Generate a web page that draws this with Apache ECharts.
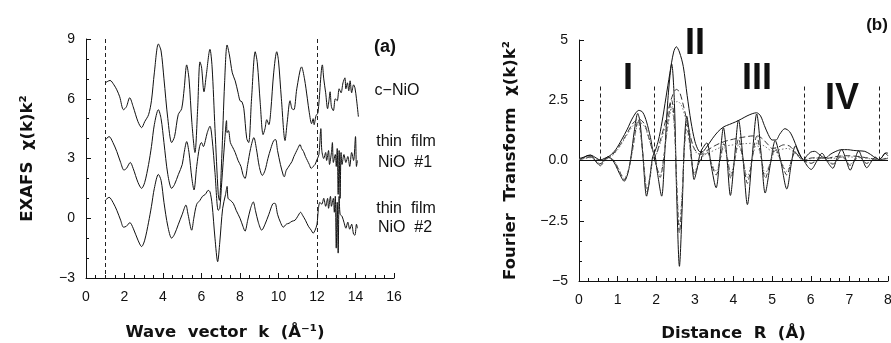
<!DOCTYPE html>
<html><head><meta charset="utf-8">
<script src="https://cdn.jsdelivr.net/npm/echarts@6/dist/echarts.min.js"></script>
<style>html,body{margin:0;padding:0;background:#fff}#c{width:891px;height:343px}</style>
</head><body><div id="c"></div>
<script>
// ---------- Panel (a): EXAFS chi(k)k^2, [k, value] ----------
const cNiO = [[1.0,6.8],[1.25,6.92],[1.45,6.7],[1.6,6.45],[1.75,6.1],[1.95,5.45],[2.1,5.6],[2.27,6.05],[2.45,5.6],[2.7,4.85],[2.89,4.55],[3.05,4.85],[3.25,5.2],[3.4,5.9],[3.55,7.3],[3.76,8.75],[3.9,8.4],[4.05,7.0],[4.25,5.0],[4.45,3.8],[4.6,4.1],[4.79,5.2],[4.97,5.5],[5.1,6.5],[5.23,7.7],[5.35,7.0],[5.5,4.8],[5.66,3.3],[5.8,5.5],[5.92,7.85],[6.0,7.6],[6.13,6.35],[6.25,7.2],[6.44,8.48],[6.55,7.6],[6.7,4.5],[6.87,1.2],[6.93,0.9],[7.05,3.0],[7.2,6.8],[7.33,8.7],[7.45,8.2],[7.6,7.3],[7.75,6.9],[7.9,6.3],[8.0,5.9],[8.1,5.85],[8.2,5.5],[8.35,4.0],[8.45,3.8],[8.6,6.0],[8.79,8.36],[8.9,7.8],[9.05,5.8],[9.2,4.2],[9.3,4.5],[9.39,4.95],[9.5,4.7],[9.6,5.4],[9.75,7.3],[9.91,8.36],[10.0,7.9],[10.15,6.0],[10.34,3.9],[10.45,4.8],[10.6,5.9],[10.7,5.5],[10.8,5.45],[10.95,6.5],[11.2,7.6],[11.35,7.0],[11.5,6.0],[11.6,5.3],[11.72,4.75],[11.8,5.0],[11.85,4.7],[11.95,5.15],[12.05,5.3],[12.28,7.7],[12.35,7.0],[12.45,6.3],[12.55,5.5],[12.62,5.9],[12.68,6.35],[12.75,5.6],[12.85,5.4],[12.95,6.0],[13.05,5.9],[13.15,6.5],[13.25,6.3],[13.35,6.8],[13.45,7.05],[13.5,6.5],[13.58,6.8],[13.65,6.4],[13.72,6.9],[13.8,6.3],[13.9,6.7],[13.97,6.55],[14.05,6.0],[14.15,5.1]];
const film1 = [[1.0,3.93],[1.2,4.1],[1.4,3.8],[1.6,3.35],[1.8,2.8],[1.97,2.42],[2.1,2.5],[2.3,2.8],[2.45,2.5],[2.7,1.8],[2.89,1.5],[3.05,1.8],[3.25,2.7],[3.4,3.6],[3.55,4.7],[3.76,5.45],[3.9,5.0],[4.05,3.8],[4.25,2.2],[4.45,1.5],[4.6,1.7],[4.8,2.2],[5.0,2.7],[5.1,3.3],[5.23,3.85],[5.35,3.3],[5.5,2.0],[5.61,1.42],[5.75,2.6],[5.9,3.6],[6.0,3.8],[6.1,3.6],[6.2,3.9],[6.3,4.3],[6.44,4.62],[6.55,4.0],[6.7,2.3],[6.87,0.4],[6.95,0.5],[7.05,1.8],[7.2,3.8],[7.3,4.9],[7.33,4.3],[7.4,4.4],[7.5,3.8],[7.6,3.6],[7.75,3.3],[7.9,2.9],[8.05,2.6],[8.15,2.2],[8.26,2.0],[8.4,2.7],[8.55,3.5],[8.72,4.05],[8.85,3.5],[9.0,2.6],[9.16,2.15],[9.3,2.4],[9.45,3.0],[9.6,3.5],[9.75,3.9],[9.85,3.95],[9.95,3.4],[10.1,2.7],[10.25,2.15],[10.3,2.08],[10.4,2.4],[10.5,2.55],[10.6,2.7],[10.7,2.85],[10.8,3.1],[10.9,3.3],[11.0,3.5],[11.12,3.7],[11.2,3.5],[11.3,3.35],[11.4,3.1],[11.5,2.9],[11.6,2.7],[11.7,2.5],[11.8,2.6],[11.9,2.7],[12.0,2.95],[12.1,3.2],[12.2,4.5],[12.25,3.4],[12.35,3.0],[12.45,3.3],[12.5,2.9],[12.6,3.4],[12.65,2.7],[12.75,3.3],[12.8,3.8],[12.85,2.8],[12.95,3.2],[13.0,2.6],[13.05,3.5],[13.1,1.2],[13.15,3.4],[13.2,1.0],[13.25,3.3],[13.3,2.7],[13.4,3.2],[13.5,2.8],[13.6,3.1],[13.7,2.6],[13.8,3.3],[13.9,2.9],[14.0,4.1],[14.05,2.6],[14.1,2.9]];
const film2 = [[1.0,0.9],[1.2,1.05],[1.4,0.8],[1.6,0.4],[1.8,-0.1],[1.95,-0.45],[2.1,-0.4],[2.28,-0.22],[2.45,-0.5],[2.7,-1.1],[2.89,-1.42],[3.05,-1.1],[3.25,-0.2],[3.4,0.6],[3.55,1.5],[3.76,2.2],[3.9,1.9],[4.05,0.8],[4.25,-0.4],[4.45,-1.0],[4.6,-0.8],[4.8,-0.3],[5.0,0.2],[5.19,0.66],[5.3,0.2],[5.49,-0.6],[5.6,0.0],[5.75,0.7],[5.92,0.9],[6.05,1.1],[6.2,1.2],[6.35,1.4],[6.44,1.33],[6.55,0.7],[6.7,-1.0],[6.84,-2.18],[6.95,-1.2],[7.1,0.5],[7.25,1.2],[7.33,1.6],[7.38,1.0],[7.5,0.9],[7.65,0.75],[7.8,0.4],[8.0,0.0],[8.15,-0.4],[8.26,-0.65],[8.4,-0.1],[8.55,0.5],[8.69,0.82],[8.8,0.4],[8.95,-0.2],[9.13,-0.6],[9.3,-0.3],[9.5,0.2],[9.7,0.72],[9.82,0.75],[9.95,0.2],[10.1,-0.2],[10.25,-0.45],[10.4,-0.3],[10.55,-0.25],[10.7,-0.15],[10.86,-0.1],[11.0,0.1],[11.15,0.3],[11.25,0.15],[11.4,-0.1],[11.55,-0.4],[11.7,-0.6],[11.8,-0.75],[11.9,-0.6],[12.0,-0.3],[12.07,0.45],[12.15,0.8],[12.25,0.7],[12.35,1.0],[12.45,0.6],[12.55,1.0],[12.6,0.5],[12.7,1.1],[12.75,0.6],[12.85,1.0],[12.9,0.3],[12.95,1.1],[13.0,-1.5],[13.05,0.8],[13.1,-1.75],[13.15,1.1],[13.2,0.2],[13.3,0.1],[13.4,-0.2],[13.5,-0.5],[13.6,-0.2],[13.7,-0.55],[13.8,-0.3],[13.9,-0.8],[13.97,-0.85],[14.05,-0.3],[14.1,-0.5]];
const kCutoffs = [1, 12];

// ---------- Panel (b): Fourier transform, [R, value] ----------
const ftMagC = [[0,0.08],[0.15,0.15],[0.3,0.22],[0.45,0.1],[0.55,0.02],[0.65,0.08],[0.8,0.2],[0.95,0.45],[1.1,0.85],[1.25,1.3],[1.4,1.8],[1.55,2.08],[1.65,2.0],[1.75,1.6],[1.85,0.95],[1.94,0.32],[2.05,0.8],[2.15,1.6],[2.25,2.6],[2.35,3.6],[2.45,4.5],[2.52,4.72],[2.6,4.5],[2.7,3.9],[2.8,2.7],[2.9,1.6],[3.0,0.8],[3.1,0.4],[3.18,0.35],[3.3,0.55],[3.45,0.9],[3.6,1.2],[3.75,1.4],[3.9,1.5],[4.05,1.6],[4.2,1.72],[4.35,1.85],[4.5,1.95],[4.6,1.98],[4.7,1.85],[4.8,1.45],[4.9,1.08],[5.0,0.85],[5.1,0.85],[5.2,1.1],[5.33,1.32],[5.45,1.2],[5.55,0.9],[5.65,0.5],[5.75,0.15],[5.82,0.04],[5.9,0.2],[6.0,0.35],[6.1,0.38],[6.2,0.28],[6.3,0.15],[6.4,0.12],[6.5,0.25],[6.65,0.38],[6.8,0.45],[6.95,0.45],[7.1,0.42],[7.25,0.4],[7.4,0.38],[7.55,0.25],[7.7,0.08],[7.77,0.04],[7.85,0.15],[7.95,0.32],[8.0,0.3]];
const ftReC = [[0,0.05],[0.1,0.1],[0.2,0.2],[0.3,0.22],[0.4,0.05],[0.5,-0.15],[0.58,-0.12],[0.65,0.02],[0.75,0.15],[0.85,0.05],[0.95,-0.2],[1.05,-0.55],[1.17,-0.86],[1.27,-0.5],[1.35,0.2],[1.43,1.2],[1.52,1.95],[1.58,1.6],[1.65,0.3],[1.75,-1.48],[1.82,-0.9],[1.9,0.1],[1.95,0.3],[2.02,-0.4],[2.14,-1.48],[2.22,0.3],[2.3,2.5],[2.4,4.0],[2.47,2.4],[2.53,-1.5],[2.6,-4.39],[2.67,-2.0],[2.73,0.8],[2.79,1.84],[2.85,1.2],[2.92,0.0],[2.98,-0.79],[3.05,-0.4],[3.15,0.35],[3.31,0.73],[3.42,-0.2],[3.55,-1.13],[3.64,0.0],[3.74,1.36],[3.83,0.1],[3.92,-1.45],[4.02,0.0],[4.13,1.68],[4.25,0.0],[4.36,-1.83],[4.48,0.1],[4.6,1.93],[4.72,0.2],[4.82,-1.35],[4.95,-0.2],[5.08,0.82],[5.22,0.0],[5.38,-1.18],[5.5,-0.1],[5.6,0.6],[5.72,0.2],[5.82,0.0],[5.92,-0.25],[6.01,-0.37],[6.15,-0.05],[6.29,0.3],[6.43,-0.05],[6.57,-0.32],[6.68,0.1],[6.8,0.45],[6.91,0.05],[7.02,-0.4],[7.13,0.0],[7.24,0.4],[7.35,0.0],[7.45,-0.3],[7.57,-0.05],[7.67,0.14],[7.77,0.03],[7.85,0.15],[7.92,0.3],[8.0,0.2]];
const ftMag1 = [[0,0.05],[0.3,0.15],[0.55,0.03],[0.8,0.15],[1.0,0.5],[1.2,1.0],[1.4,1.55],[1.55,1.72],[1.7,1.5],[1.8,1.0],[1.9,0.45],[1.97,0.2],[2.1,0.8],[2.25,1.7],[2.4,2.6],[2.52,2.95],[2.6,2.85],[2.7,2.3],[2.8,1.6],[2.9,0.9],[3.0,0.45],[3.15,0.25],[3.3,0.4],[3.5,0.6],[3.7,0.75],[3.9,0.85],[4.1,0.92],[4.3,0.98],[4.5,1.02],[4.62,1.02],[4.75,0.9],[4.9,0.65],[5.0,0.5],[5.15,0.55],[5.3,0.65],[5.45,0.6],[5.6,0.35],[5.75,0.08],[5.83,0.03],[6.0,0.1],[6.2,0.12],[6.4,0.08],[6.6,0.15],[6.9,0.2],[7.2,0.17],[7.5,0.1],[7.78,0.03],[8.0,0.12]];
const ftRe1 = [[0,0.03],[0.2,0.12],[0.3,0.15],[0.45,-0.05],[0.55,-0.22],[0.65,-0.05],[0.75,0.12],[0.9,0.0],[1.05,-0.45],[1.17,-0.8],[1.28,-0.4],[1.38,0.4],[1.47,1.3],[1.53,1.7],[1.6,1.1],[1.68,-0.2],[1.76,-1.3],[1.84,-0.7],[1.93,0.15],[2.0,-0.2],[2.1,-0.7],[2.2,0.2],[2.3,1.6],[2.4,2.5],[2.47,1.5],[2.53,-1.0],[2.6,-3.0],[2.67,-1.5],[2.73,0.6],[2.79,1.5],[2.86,0.8],[2.93,-0.2],[2.99,-0.6],[3.08,-0.2],[3.2,0.2],[3.32,0.35],[3.44,-0.2],[3.55,-0.6],[3.65,0.0],[3.75,0.7],[3.85,0.05],[3.93,-0.75],[4.03,0.0],[4.13,0.9],[4.25,0.0],[4.36,-0.95],[4.48,0.05],[4.6,1.0],[4.72,0.1],[4.82,-0.75],[4.95,-0.1],[5.08,0.5],[5.22,0.0],[5.38,-0.6],[5.5,0.0],[5.6,0.35],[5.72,0.1],[5.82,0.0],[6.0,-0.12],[6.3,0.12],[6.57,-0.15],[6.8,0.2],[7.02,-0.2],[7.24,0.17],[7.45,-0.12],[7.67,0.06],[7.8,0.0],[8.0,0.1]];
const ftMag2 = [[0,0.05],[0.3,0.12],[0.55,0.03],[0.8,0.12],[1.0,0.45],[1.2,0.95],[1.4,1.45],[1.55,1.6],[1.7,1.4],[1.8,0.95],[1.9,0.45],[1.97,0.2],[2.1,0.7],[2.25,1.5],[2.4,2.2],[2.55,2.45],[2.65,2.3],[2.75,1.8],[2.85,1.2],[2.95,0.6],[3.05,0.3],[3.2,0.25],[3.4,0.35],[3.6,0.5],[3.8,0.6],[4.0,0.65],[4.3,0.7],[4.6,0.72],[4.8,0.6],[5.0,0.4],[5.2,0.45],[5.4,0.5],[5.6,0.3],[5.75,0.08],[5.83,0.03],[6.1,0.1],[6.5,0.08],[6.9,0.15],[7.3,0.12],[7.78,0.03],[8.0,0.1]];
const ftRe2 = [[0,0.03],[0.3,0.12],[0.45,-0.03],[0.55,-0.15],[0.65,-0.03],[0.75,0.1],[0.9,0.0],[1.05,-0.42],[1.17,-0.75],[1.28,-0.38],[1.38,0.35],[1.47,1.2],[1.53,1.6],[1.6,1.0],[1.68,-0.2],[1.76,-1.2],[1.84,-0.6],[1.93,0.12],[2.0,-0.15],[2.1,-0.6],[2.2,0.2],[2.3,1.4],[2.4,2.2],[2.47,1.3],[2.53,-0.9],[2.6,-2.7],[2.67,-1.3],[2.73,0.5],[2.79,1.3],[2.86,0.7],[2.93,-0.15],[2.99,-0.5],[3.08,-0.15],[3.2,0.15],[3.32,0.3],[3.44,-0.15],[3.55,-0.45],[3.65,0.0],[3.75,0.55],[3.85,0.05],[3.93,-0.55],[4.03,0.0],[4.13,0.65],[4.25,0.0],[4.36,-0.7],[4.48,0.05],[4.6,0.7],[4.72,0.1],[4.82,-0.55],[4.95,-0.1],[5.08,0.4],[5.22,0.0],[5.38,-0.45],[5.5,0.0],[5.6,0.3],[5.72,0.08],[5.82,0.0],[6.0,-0.1],[6.3,0.1],[6.57,-0.12],[6.8,0.15],[7.02,-0.15],[7.24,0.12],[7.45,-0.1],[7.67,0.05],[7.8,0.0],[8.0,0.08]];
const rWindows = [0.56, 1.94, 3.16, 5.83, 7.77];
const windowTop = 3.1;

const INK = '#111';
const minus = v => String(v).replace('-', '\u2212');
const tickFont = {color: INK, fontFamily: 'Liberation Sans, Arial, sans-serif', fontSize: 14};
const titleFont = {color: INK, fontFamily: 'DejaVu Sans, sans-serif', fontSize: 16.5, fontWeight: 'bold'};

function axisCommon(extra) {
  return Object.assign({
    type: 'value',
    axisLine: {show: true, onZero: false, lineStyle: {color: INK, width: 1}},
    axisTick: {show: true, inside: true, length: 5, lineStyle: {color: INK}},
    minorTick: {show: true, length: 3, lineStyle: {color: INK}},
    splitLine: {show: false},
    minorSplitLine: {show: false},
    nameLocation: 'middle',
    nameTextStyle: titleFont
  }, extra);
}

function line(data, xi, style, extra) {
  return Object.assign({
    type: 'line', data: data, xAxisIndex: xi, yAxisIndex: xi,
    showSymbol: false, symbol: 'none', smooth: 0.3, silent: true,
    lineStyle: Object.assign({color: INK, width: 1}, style)
  }, extra || {});
}

const leftCut = {
  silent: true, symbol: 'none', label: {show: false},
  lineStyle: {color: '#222', type: [4, 3], width: 1},
  data: kCutoffs.map(k => [{coord: [k, 9]}, {coord: [k, -3]}])
};
const rightCut = {
  silent: true, symbol: 'none', label: {show: false},
  lineStyle: {color: '#222', type: [4, 3], width: 1},
  data: rWindows.map(r => [{coord: [r, 0]}, {coord: [r, windowTop]}]).concat([
    [{coord: [0, 0], lineStyle: {type: 'solid', color: INK, width: 1}}, {coord: [8, 0]}]
  ])
};

const chart = echarts.init(document.getElementById('c'), null, {renderer: 'canvas'});
const txt = (t, x, y, size, weight, extra) => Object.assign({
  type: 'text', x: x, y: y, silent: true,
  style: {text: t, fill: INK, font: (weight || 'normal') + ' ' + size + 'px "Liberation Sans", Arial, sans-serif',
          textAlign: 'center', textVerticalAlign: 'middle'}
}, extra || {});

chart.setOption({
  animation: false,
  backgroundColor: '#fff',
  grid: [
    {left: 86, top: 39, width: 308, height: 239, containLabel: false, outerBoundsMode: 'none'},
    {left: 579, top: 40, width: 309, height: 241, containLabel: false, outerBoundsMode: 'none'}
  ],
  xAxis: [
    axisCommon({gridIndex: 0, min: 0, max: 16, interval: 2, minorTick: {show: true, splitNumber: 4, length: 3, lineStyle: {color: INK}},
      axisLabel: Object.assign({margin: 12}, tickFont),
      name: 'Wave  vector  k  (Å\u207B\u00B9)', nameGap: 46,
      nameTextStyle: Object.assign({}, titleFont, {padding: [0, 30, 0, 0]})}),
    axisCommon({gridIndex: 1, min: 0, max: 8, interval: 1, minorTick: {show: true, splitNumber: 4, length: 3, lineStyle: {color: INK}},
      axisLabel: Object.assign({margin: 12}, tickFont),
      name: 'Distance  R  (Å)', nameGap: 44})
  ],
  yAxis: [
    axisCommon({gridIndex: 0, min: -3, max: 9, interval: 3, minorTick: {show: true, splitNumber: 3, length: 3, lineStyle: {color: INK}},
      axisLabel: Object.assign({margin: 11, formatter: v => minus(v)}, tickFont),
      name: 'EXAFS  χ(k)k²', nameGap: 50}),
    axisCommon({gridIndex: 1, min: -5, max: 5, interval: 2.5, minorTick: {show: true, splitNumber: 3, length: 3, lineStyle: {color: INK}},
      axisLabel: Object.assign({margin: 11, formatter: v => v === 0 ? '0.0' : minus(Number.isInteger(v) ? v : v.toFixed(1))}, tickFont),
      name: 'Fourier  Transform  χ(k)k²', nameGap: 60})
  ],
  series: [
    line(cNiO, 0, {}, {markLine: leftCut}),
    line(film1, 0, {}),
    line(film2, 0, {}),
    line(ftReC, 1, {}, {markLine: rightCut}),
    line(ftMagC, 1, {}),
    line(ftRe1, 1, {type: [5, 3], color: '#333'}),
    line(ftMag1, 1, {type: [6, 3], color: '#333'}),
    line(ftRe2, 1, {type: [1.5, 2], color: '#777'}),
    line(ftMag2, 1, {type: [1.5, 2], color: '#777'})
  ],
  graphic: [
    txt('(a)', 385, 47, 18, 'bold'),
    txt('c\u2212NiO', 397, 91, 16),
    txt('thin  film', 406, 142, 16),
    txt('NiO  #1', 405, 163, 16),
    txt('thin  film', 406, 209, 16),
    txt('NiO  #2', 405, 228, 16),
    txt('(b)', 877, 25, 17, 'bold'),
    txt('I', 628, 79, 36, 'bold'),
    txt('II', 695, 44, 36, 'bold'),
    txt('III', 757, 79, 36, 'bold'),
    txt('IV', 842, 99, 36, 'bold')
  ]
});
</script></body></html>
